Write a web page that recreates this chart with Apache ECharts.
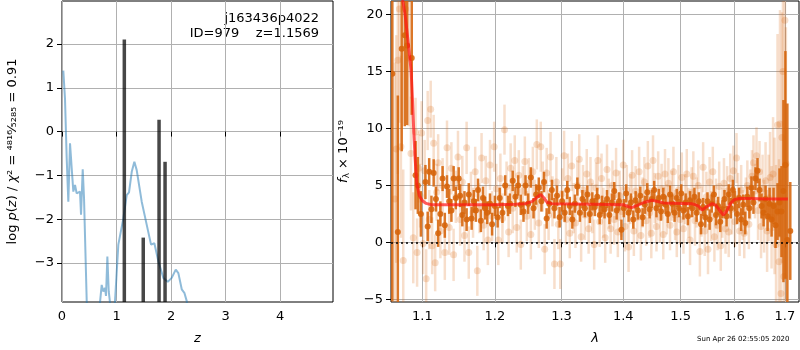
<!DOCTYPE html>
<html>
<head>
<meta charset="utf-8">
<script src="https://cdn.jsdelivr.net/npm/echarts@6.0.0/dist/echarts.min.js"></script>
<style>
  html, body { margin: 0; padding: 0; background: #fff; }
  #chart { width: 800px; height: 350px; }
</style>
</head>
<body>
<div id="chart"></div>
<script>
// left panel: log p(z)
var zTicks = [0, 1, 2, 3, 4];
var pzTicks = [-3, -2, -1, 0, 1, 2];
var pzCurve = [
  [0.024, 1.39], [0.055, 0.75], [0.086, -0.61], [0.116, -1.6], [0.147, -0.27],
  [0.178, -0.84], [0.208, -1.37], [0.239, -1.22], [0.269, -1.41], [0.3, -1.45],
  [0.33, -1.37], [0.349, -1.9], [0.38, -0.86], [0.404, -1.52], [0.453, -3.86],
  [0.5, -5.5], [0.66, -5.5], [0.697, -3.9], [0.728, -3.5], [0.758, -3.65],
  [0.789, -3.57], [0.807, -3.75], [0.832, -2.85], [0.857, -3.65], [0.88, -3.9],
  [0.9, -5], [0.94, -4.3], [0.972, -3.87], [1.033, -2.58], [1.064, -2.55],
  [1.125, -1.98], [1.187, -1.45], [1.229, -1.39], [1.279, -0.92], [1.327, -0.69],
  [1.37, -0.88], [1.4, -0.92], [1.462, -1.6], [1.554, -2.13], [1.633, -2.58],
  [1.694, -2.55], [1.767, -2.96], [1.859, -3.34], [1.939, -3.43], [2.012, -3.34],
  [2.086, -3.15], [2.134, -3.23], [2.196, -3.6], [2.244, -3.68], [2.288, -3.87],
  [2.33, -4.6]
];
var pzPeaks = [[1.143, 2.1], [1.49, -2.42], [1.78, 0.27], [1.89, -0.69]];

// right panel: spectrum
var lamTicks = [1.1, 1.2, 1.3, 1.4, 1.5, 1.6, 1.7];
var fluxTicks = [-5, 0, 5, 10, 15, 20];
// [lambda, flux, err]
var darkPoints = [
  [1.061,14.8,20],[1.068,0.9,12],[1.073,17.0,9],[1.077,18.2,8],[1.080,17.3,7],[1.086,16.2,5],
  [1.091,5.9,3],[1.094,5.0,2.5],[1.098,2.5,2],[1.104,5.3,1.5],[1.107,1.4,1.3],[1.109,6.2,1.2],
  [1.112,2.9,1.2],[1.115,6.1,1.2],[1.118,3.8,1.1],[1.121,0.8,1.2],[1.124,2.5,1.1],[1.127,5.6,1.1],
  [1.130,1.5,1.1],[1.133,4.9,1.0],[1.136,3.6,1.1],[1.139,2.8,1.0],[1.142,5.6,1.1],[1.145,3.9,1.0],
  [1.149,5.6,1.0],[1.151,4.1,1.0],[1.154,2.4,1.0],[1.157,3.5,1.0],[1.160,2.0,1.0],[1.163,4.2,1.0],
  [1.167,2.1,1.0],[1.170,3.6,1.0],[1.173,2.8,1.0],[1.176,4.6,1.0],[1.180,1.9,1.0],[1.183,3.9,1.0],
  [1.186,3.0,1.0],[1.189,2.6,1.0],[1.193,3.4,0.9],[1.196,1.6,1.0],[1.200,3.2,0.9],[1.204,2.2,0.9],
  [1.207,3.9,0.9],[1.211,2.6,0.9],[1.215,5.0,0.9],[1.219,3.2,0.9],[1.222,3.4,0.9],[1.226,5.4,0.9],
  [1.230,4.0,0.9],[1.234,5.0,0.9],[1.238,3.3,0.9],[1.242,2.7,0.9],[1.245,5.0,0.9],[1.249,3.4,0.9],
  [1.253,5.7,0.9],[1.257,3.0,0.9],[1.261,4.2,0.9],[1.265,4.8,0.9],[1.269,3.6,0.9],[1.273,5.3,0.9],
  [1.277,2.1,0.9],[1.281,3.4,0.9],[1.285,4.6,0.9],[1.289,3.0,0.9],[1.293,4.1,0.9],[1.297,2.2,0.9],
  [1.301,3.6,0.9],[1.305,2.6,0.8],[1.309,4.6,0.8],[1.313,3.2,0.8],[1.317,2.0,0.8],[1.321,3.4,0.8],
  [1.325,4.9,0.8],[1.329,2.6,0.8],[1.333,3.8,0.8],[1.337,3.0,0.8],[1.341,4.2,0.8],[1.345,2.5,0.8],
  [1.349,3.6,0.8],[1.353,3.1,0.8],[1.357,4.0,0.8],[1.361,2.4,0.8],[1.365,3.3,0.8],[1.369,2.9,0.8],
  [1.373,3.8,0.8],[1.377,2.4,0.8],[1.381,3.5,0.8],[1.385,4.5,0.8],[1.389,2.8,0.8],[1.393,3.6,0.8],
  [1.397,1.1,0.9],[1.401,3.0,0.8],[1.405,4.3,0.8],[1.409,2.6,0.8],[1.413,3.5,0.8],[1.417,2.0,0.8],
  [1.421,3.7,0.8],[1.425,2.8,0.8],[1.429,4.1,0.8],[1.433,2.2,0.8],[1.437,3.3,0.8],[1.441,4.4,0.8],
  [1.445,2.9,0.8],[1.449,3.8,0.8],[1.453,4.6,0.8],[1.457,3.0,0.8],[1.461,3.9,0.8],[1.465,2.7,0.8],
  [1.469,4.0,0.8],[1.473,3.3,0.8],[1.477,2.5,0.8],[1.481,4.2,0.8],[1.485,3.4,0.8],[1.489,2.6,0.8],
  [1.493,3.9,0.8],[1.497,3.0,0.8],[1.501,4.3,0.8],[1.505,2.8,0.8],[1.509,3.5,0.8],[1.513,2.3,0.8],
  [1.517,3.7,0.8],[1.521,3.0,0.8],[1.525,4.0,0.8],[1.529,2.6,0.8],[1.533,3.6,0.8],[1.537,1.6,0.9],
  [1.541,3.1,0.8],[1.545,2.2,0.9],[1.549,3.6,0.8],[1.553,2.0,0.9],[1.557,3.4,0.8],[1.561,4.2,0.8],
  [1.565,2.4,0.9],[1.569,3.2,0.8],[1.573,1.8,0.9],[1.577,2.9,0.8],[1.581,3.8,0.8],[1.585,2.3,0.9],
  [1.589,4.2,0.9],[1.593,3.0,0.9],[1.597,4.6,0.9],[1.601,3.6,0.9],[1.605,2.5,0.9],[1.609,3.9,0.9],
  [1.613,2.0,1.0],[1.617,3.3,0.9],[1.621,1.7,1.0],[1.625,4.0,0.9],[1.629,3.0,0.9],[1.633,4.8,1.0],
  [1.637,3.5,1.0],[1.641,5.6,1.0],[1.645,6.3,1.1],[1.649,4.6,1.0],[1.653,3.2,1.1],[1.657,2.6,1.2],
  [1.661,3.8,1.2],[1.665,2.3,1.3],[1.669,3.4,1.4],[1.673,2.0,1.5],[1.677,3.2,1.6],[1.681,1.5,2],
  [1.685,2.7,2.5],[1.689,3.5,3],[1.693,2.7,4],[1.697,4.5,8],[1.701,6.8,10],[1.705,0.2,12],[1.711,1.0,4.3]
];
var lightPoints = [
  [1.064,3.8,12],[1.066,8.2,10],[1.068,16.0,10],[1.070,20.5,10],[1.072,8.4,8],[1.075,-1.6,8],
  [1.078,20.5,8],[1.082,16.2,6],[1.085,7.8,5],[1.088,0.4,4],[1.091,9.7,3],[1.093,-0.9,3],
  [1.095,6.5,3],[1.097,4.1,2.8],[1.099,9.6,2.8],[1.101,-0.1,2.7],[1.103,6.3,2.7],[1.105,-3.2,2.6],
  [1.107,10.7,2.6],[1.109,2.0,2.6],[1.111,11.7,2.5],[1.113,-0.3,2.5],[1.115,8.7,2.5],[1.117,-1.8,2.5],
  [1.119,4.4,2.5],[1.121,7.0,2.5],[1.124,1.0,2.4],[1.127,5.0,2.4],[1.130,-0.9,2.4],[1.133,8.3,2.4],
  [1.136,1.3,2.4],[1.139,6.5,2.3],[1.142,-1.1,2.3],[1.145,4.0,2.3],[1.148,7.5,2.3],[1.151,2.0,2.3],
  [1.154,5.3,2.3],[1.157,0.6,2.3],[1.160,8.3,2.3],[1.163,-0.9,2.3],[1.166,4.0,2.2],[1.169,2.6,2.2],
  [1.172,6.2,2.2],[1.175,-2.5,2.2],[1.178,3.0,2.2],[1.181,7.4,2.2],[1.184,1.5,2.2],[1.187,5.4,2.2],
  [1.190,0.2,2.2],[1.193,6.8,2.2],[1.196,2.3,2.2],[1.199,8.4,2.2],[1.202,4.7,2.2],[1.205,0.2,2.2],
  [1.208,5.6,2.2],[1.211,2.1,2.2],[1.214,9.9,2.2],[1.217,4.9,2.2],[1.220,0.9,2.2],[1.223,6.5,2.2],
  [1.226,3.0,2.2],[1.229,7.2,2.2],[1.232,1.3,2.2],[1.235,5.9,2.2],[1.238,-0.2,2.2],[1.241,4.5,2.2],
  [1.244,7.1,2.2],[1.247,2.3,2.2],[1.250,5.2,2.2],[1.253,0.7,2.2],[1.256,6.2,2.2],[1.259,3.3,2.2],
  [1.262,8.6,2.2],[1.265,1.7,2.2],[1.268,8.4,2.2],[1.271,4.9,2.2],[1.274,-0.6,2.2],[1.277,6.1,2.2],
  [1.280,2.4,2.2],[1.283,7.5,2.2],[1.286,3.6,2.2],[1.289,-1.9,2.2],[1.292,5.3,2.2],[1.295,1.6,2.2],
  [1.298,-1.9,2.2],[1.301,4.3,2.2],[1.304,7.6,2.2],[1.307,2.0,2.2],[1.310,5.6,2.2],[1.313,0.8,2.2],
  [1.316,6.7,2.2],[1.319,3.0,2.2],[1.322,1.7,2.2],[1.325,5.0,2.2],[1.328,7.3,2.2],[1.331,0.5,2.2],
  [1.334,4.6,2.2],[1.337,2.4,2.2],[1.340,6.0,2.2],[1.343,1.2,2.2],[1.346,5.3,2.2],[1.349,3.0,2.2],
  [1.352,-0.2,2.2],[1.355,4.8,2.2],[1.358,7.2,2.2],[1.361,1.8,2.2],[1.364,5.6,2.2],[1.367,2.6,2.2],
  [1.370,0.4,2.2],[1.373,6.4,2.2],[1.376,3.4,2.2],[1.379,1.2,2.2],[1.382,5.0,2.2],[1.385,2.0,2.2],
  [1.388,6.1,2.2],[1.391,0.9,2.2],[1.394,4.1,2.2],[1.397,2.7,2.2],[1.400,6.8,2.2],[1.403,1.4,2.2],
  [1.406,4.6,2.2],[1.409,-0.4,2.2],[1.412,3.8,2.2],[1.415,5.9,2.2],[1.418,1.0,2.2],[1.421,4.5,2.2],
  [1.424,2.2,2.2],[1.427,6.2,2.2],[1.430,0.6,2.2],[1.433,3.5,2.2],[1.436,5.3,2.2],[1.439,1.9,2.2],
  [1.442,6.7,2.2],[1.445,2.6,2.2],[1.448,0.8,2.2],[1.451,7.2,2.2],[1.454,3.9,2.2],[1.457,1.4,2.2],
  [1.460,5.8,2.2],[1.463,2.2,2.2],[1.466,4.7,2.2],[1.469,0.7,2.2],[1.472,6.0,2.2],[1.475,2.9,2.2],
  [1.478,5.2,2.2],[1.481,1.5,2.2],[1.484,4.1,2.2],[1.487,6.2,2.2],[1.490,2.4,2.2],[1.493,0.9,2.2],
  [1.496,4.6,2.2],[1.499,2.0,2.2],[1.502,5.7,2.2],[1.505,1.2,2.2],[1.508,3.8,2.2],[1.511,6.0,2.2],
  [1.514,2.6,2.2],[1.517,0.2,2.2],[1.520,4.4,2.2],[1.523,5.8,2.2],[1.526,1.9,2.2],[1.529,3.5,2.2],
  [1.532,5.0,2.2],[1.535,-0.8,2.2],[1.538,2.7,2.2],[1.541,6.6,2.2],[1.544,1.0,2.2],[1.547,4.0,2.2],
  [1.550,-0.6,2.2],[1.553,5.3,2.2],[1.556,2.3,2.2],[1.559,6.2,2.2],[1.562,0.5,2.2],[1.565,3.4,2.2],
  [1.568,1.5,2.2],[1.571,4.9,2.2],[1.574,-0.3,2.2],[1.577,2.6,2.2],[1.580,5.2,2.2],[1.583,1.2,2.2],
  [1.586,4.5,2.2],[1.589,0.9,2.2],[1.592,5.6,2.2],[1.595,2.9,2.2],[1.598,6.3,2.2],[1.601,1.8,2.2],
  [1.604,7.4,2.2],[1.607,3.9,2.2],[1.610,1.0,2.2],[1.613,4.6,2.2],[1.616,2.4,2.2],[1.619,0.8,2.2],
  [1.622,3.5,2.2],[1.625,5.0,2.2],[1.628,1.6,2.2],[1.631,4.2,2.2],[1.634,5.8,2.3],[1.637,7.0,2.4],
  [1.640,4.5,2.4],[1.643,7.6,2.5],[1.646,2.8,2.6],[1.649,6.2,2.7],[1.652,1.4,2.8],[1.655,4.7,3],
  [1.658,2.3,3.2],[1.661,5.4,3.4],[1.664,1.0,3.6],[1.667,3.9,3.8],[1.670,5.7,4],[1.673,2.2,4.5],
  [1.676,6.0,5],[1.679,3.2,6],[1.682,-0.2,7],[1.685,10.3,8],[1.688,-1.7,9],[1.690,10.4,10],
  [1.692,-4.5,10],[1.694,9.2,11],[1.696,15.0,12],[1.698,-3.0,12],[1.700,19.5,13],[1.702,6.9,12]
];
var modelLine = [
  [1.072,23],[1.0745,21.2],[1.0774,20],[1.0815,17.5],[1.0853,15],[1.0870,12.5],[1.0885,10],
  [1.0905,7.3],[1.0925,5.2],[1.096,4.1],[1.100,3.65],[1.105,3.42],[1.112,3.3],[1.15,3.3],
  [1.2,3.3],[1.23,3.35],[1.245,3.4],[1.255,3.6],[1.262,3.95],[1.268,4.2],[1.273,3.9],
  [1.278,3.5],[1.285,3.4],[1.35,3.35],[1.40,3.3],[1.408,3.15],[1.414,3.05],[1.422,3.2],
  [1.435,3.5],[1.449,3.7],[1.458,3.6],[1.47,3.45],[1.52,3.4],[1.532,3.2],[1.539,2.85],
  [1.548,3.15],[1.558,3.4],[1.565,3.25],[1.572,2.8],[1.579,2.4],[1.586,2.8],[1.592,3.4],
  [1.60,3.75],[1.61,3.85],[1.63,3.85],[1.66,3.8],[1.706,3.8]
];

var FONT = 'DejaVu Sans';
var LEFT_MIN = -3.89, LEFT_MAX = 2.98;
var RIGHT_MIN = -5.24, RIGHT_MAX = 21.2;
var LAM_MIN = 1.0593, LAM_MAX = 1.729;

function minus(v) {
  return v < 0 ? '\u2212' + Math.abs(v) : String(v);
}
function logPts(list) {
  return list.map(function (p) { return [Math.log(p[0])].concat(p.slice(1)); });
}

function errRender(color, barW, r) {
  return function (params, api) {
    var x = api.value(0), y = api.value(1), e = api.value(2);
    var c = api.coord([x, y]);
    var t = api.coord([x, y + e]);
    var b = api.coord([x, y - e]);
    return {
      type: 'group',
      children: [
        { type: 'line', shape: { x1: c[0], y1: t[1], x2: c[0], y2: b[1] },
          style: { stroke: color, lineWidth: barW } },
        { type: 'circle', shape: { cx: c[0], cy: c[1], r: r },
          style: { fill: color } }
      ]
    };
  };
}

var axisCommon = {
  axisLine: { show: false },
  axisTick: { length: 5, lineStyle: { color: '#000', width: 1 } },
  splitLine: { show: true, lineStyle: { color: '#b0b0b0', width: 1 } }
};
var labelCommon = { color: '#000', fontSize: 13, fontFamily: FONT };

var chart = echarts.init(document.getElementById('chart'), null, { renderer: 'canvas' });
chart.setOption({
  animation: false,
  backgroundColor: '#fff',
  textStyle: { fontFamily: FONT },
  grid: [
    { left: 62, top: 1, width: 271, height: 303, show: true, borderColor: '#000', borderWidth: 1, backgroundColor: 'transparent' },
    { left: 391, top: 1, width: 408, height: 303, show: true, borderColor: '#000', borderWidth: 1, backgroundColor: 'transparent' }
  ],
  xAxis: [
    Object.assign({}, axisCommon, {
      gridIndex: 0, type: 'value', min: 0, max: 4.97,
      axisTick: Object.assign({}, axisCommon.axisTick, { customValues: zTicks }),
      axisLabel: Object.assign({}, labelCommon, { margin: 8, customValues: zTicks }),
      name: 'z', nameLocation: 'middle', nameGap: 30,
      nameTextStyle: { color: '#000', fontSize: 13, fontStyle: 'italic', fontFamily: FONT }
    }),
    Object.assign({}, axisCommon, {
      gridIndex: 1, type: 'value', min: Math.log(LAM_MIN), max: Math.log(LAM_MAX),
      axisTick: Object.assign({}, axisCommon.axisTick, { customValues: lamTicks.map(Math.log) }),
      axisLabel: Object.assign({}, labelCommon, {
        margin: 8, customValues: lamTicks.map(Math.log),
        formatter: function (v) { return Math.exp(v).toFixed(1); }
      }),
      name: 'λ', nameLocation: 'middle', nameGap: 30,
      nameTextStyle: { color: '#000', fontSize: 13, fontStyle: 'italic', fontFamily: FONT }
    })
  ],
  yAxis: [
    Object.assign({}, axisCommon, {
      gridIndex: 0, type: 'value', min: LEFT_MIN, max: LEFT_MAX,
      axisTick: Object.assign({}, axisCommon.axisTick, { customValues: pzTicks }),
      axisLabel: Object.assign({}, labelCommon, { margin: 8, customValues: pzTicks, formatter: minus }),
      name: '{n|log }{i|p}{n|(}{i|z}{n|) / }{i|χ}{n|² = ⁴⁸¹⁶⁄₅₂₈₅ = 0.91}',
      nameLocation: 'middle', nameGap: 43,
      nameTextStyle: {
        color: '#000', fontSize: 13, fontFamily: FONT,
        rich: {
          n: { fontSize: 13, fontFamily: FONT, color: '#000' },
          i: { fontSize: 13, fontFamily: FONT, color: '#000', fontStyle: 'italic' }
        }
      }
    }),
    Object.assign({}, axisCommon, {
      gridIndex: 1, type: 'value', min: RIGHT_MIN, max: RIGHT_MAX,
      axisTick: Object.assign({}, axisCommon.axisTick, { customValues: fluxTicks }),
      axisLabel: Object.assign({}, labelCommon, { margin: 8, customValues: fluxTicks, formatter: minus }),
      name: '{i|f}{s|λ}{n| × 10⁻¹⁹}',
      nameLocation: 'middle', nameGap: 40,
      nameTextStyle: {
        color: '#000', fontSize: 13, fontFamily: FONT,
        rich: {
          n: { fontSize: 13, fontFamily: FONT, color: '#000' },
          i: { fontSize: 13, fontFamily: FONT, color: '#000', fontStyle: 'italic' },
          s: { fontSize: 9, fontFamily: FONT, color: '#000', verticalAlign: 'bottom', padding: [6, 0, 0, 0] }
        }
      }
    })
  ],
  graphic: [
    { type: 'text', right: 800 - 319, top: 12,
      style: { text: 'j163436p4022', fontSize: 13, fontFamily: FONT, fill: '#000', textAlign: 'right' } },
    { type: 'text', right: 800 - 319, top: 27,
      style: { text: 'ID=979    z=1.1569', fontSize: 13, fontFamily: FONT, fill: '#000', textAlign: 'right' } },
    { type: 'text', left: 697, top: 336,
      style: { text: 'Sun Apr 26 02:55:05 2020', fontSize: 7, fontFamily: FONT, fill: '#000' } }
  ],
  series: [
    {
      type: 'line', xAxisIndex: 0, yAxisIndex: 0, data: pzCurve,
      showSymbol: false, clip: true, z: 3,
      lineStyle: { color: 'rgba(31,119,180,0.5)', width: 2 }
    },
    {
      type: 'custom', xAxisIndex: 0, yAxisIndex: 0, data: pzPeaks, clip: true, z: 4,
      renderItem: function (params, api) {
        var top = api.coord([api.value(0), api.value(1)]);
        var bot = api.coord([api.value(0), LEFT_MIN]);
        return { type: 'line', shape: { x1: top[0], y1: top[1], x2: bot[0], y2: bot[1] },
          style: { stroke: 'rgba(0,0,0,0.72)', lineWidth: 3.5 } };
      }
    },
    {
      type: 'custom', xAxisIndex: 1, yAxisIndex: 1, data: logPts(lightPoints), clip: true, z: 2,
      renderItem: errRender('rgba(220,105,20,0.22)', 2.5, 3.5)
    },
    {
      type: 'custom', xAxisIndex: 1, yAxisIndex: 1, data: logPts(darkPoints), clip: true, z: 3,
      renderItem: errRender('rgba(214,100,10,0.88)', 2.5, 3)
    },
    {
      type: 'line', xAxisIndex: 1, yAxisIndex: 1, data: logPts(modelLine),
      showSymbol: false, clip: true, z: 5,
      lineStyle: { color: 'rgba(255,20,20,0.7)', width: 3 },
      markLine: {
        silent: true, symbol: 'none', label: { show: false },
        lineStyle: { color: '#000', type: [2, 3], width: 1.5 },
        data: [{ yAxis: 0 }]
      }
    }
  ]
});
</script>
</body>
</html>
